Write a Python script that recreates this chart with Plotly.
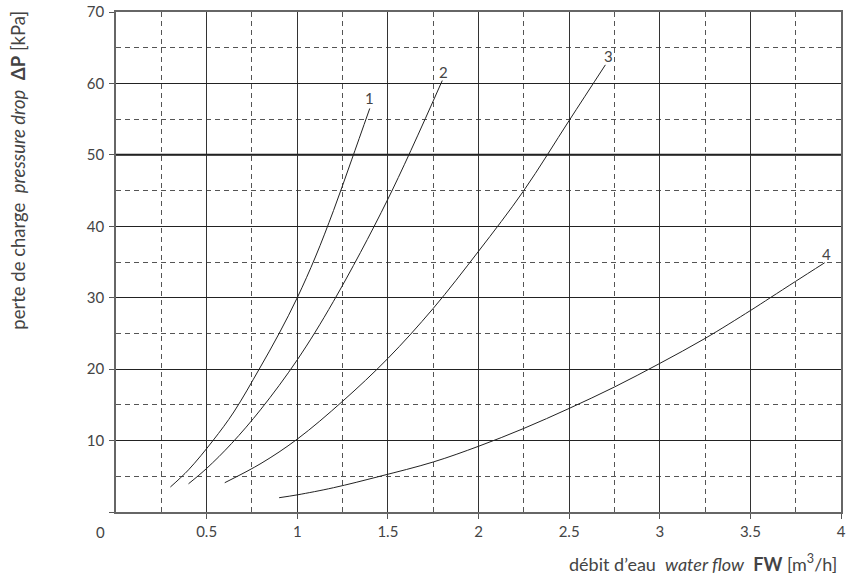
import plotly.graph_objects as go

# ---- data ----
c1_x = [0.30, 0.40, 0.535, 0.65, 0.79, 0.90, 1.00, 1.10, 1.20, 1.30, 1.40]
c1_y = [3.5, 5.9, 10.0, 14.0, 20.0, 25.0, 30.0, 35.7, 42.2, 49.3, 56.5]

c2_x = [0.40, 0.50, 0.638, 0.80, 1.00, 1.20, 1.50, 1.80]
c2_y = [3.95, 6.1, 9.6, 14.4, 21.3, 29.5, 43.8, 60.4]

c3_x = [0.60, 0.80, 1.00, 1.25, 1.50, 1.75, 2.00, 2.25, 2.50, 2.70]
c3_y = [4.1, 6.8, 10.2, 15.5, 21.5, 28.5, 36.5, 45.0, 54.8, 62.6]

c4_x = [0.90, 1.00, 1.20, 1.456, 1.75, 2.00, 2.25, 2.50, 2.75, 3.00, 3.25, 3.50, 3.61, 3.75, 3.91]
c4_y = [2.0, 2.4, 3.4, 5.0, 7.0, 9.2, 11.7, 14.5, 17.5, 20.8, 24.3, 28.2, 30.0, 32.3, 34.9]

curve_names = ["1", "2", "3", "4"]
label_x = [1.397, 1.805, 2.715, 3.92]
label_y = [57.9, 61.6, 63.8, 36.1]

x_tickvals = [0.5, 1, 1.5, 2, 2.5, 3, 3.5, 4]
x_ticktext = ["0.5", "1", "1.5", "2", "2.5", "3", "3.5", "4"]
y_tickvals = [0, 10, 20, 30, 40, 50, 60, 70]
y_ticktext = ["", "10", "20", "30", "40", "50", "60", "70"]

FONT = "Lato"
TXT = "#444444"

fig = go.Figure()
for xs, ys, nm in zip([c1_x, c2_x, c3_x, c4_x], [c1_y, c2_y, c3_y, c4_y], curve_names):
    fig.add_trace(go.Scatter(x=xs, y=ys, mode="lines", name=nm,
                             line=dict(color="#222222", width=1, shape="spline", smoothing=1.0),
                             showlegend=False, hoverinfo="skip"))

for lx, ly, nm in zip(label_x, label_y, curve_names):
    fig.add_annotation(x=lx, y=ly, text=nm, showarrow=False, xanchor="center", yanchor="middle",
                       font=dict(family=FONT, size=15, color=TXT))

# thicker line at 50
fig.add_shape(type="line", xref="paper", x0=0, x1=1, yref="y", y0=50, y1=50,
              line=dict(color="#111111", width=2), layer="below")

# origin label
fig.add_annotation(xref="paper", yref="paper", x=-0.022, y=-0.04, text="0", showarrow=False,
                   xanchor="center", yanchor="middle", font=dict(family=FONT, size=15, color=TXT))

# axis titles
fig.add_annotation(xref="paper", yref="paper", x=-0.135, y=0.683, textangle=-90,
                   text="perte de charge&nbsp;&nbsp;<i>pressure drop</i>&nbsp;&nbsp;<b>ΔP</b> [kPa]",
                   showarrow=False, xanchor="center", yanchor="middle",
                   font=dict(family=FONT, size=18.5, color=TXT))
fig.add_annotation(xref="paper", yref="paper", x=0.997, y=-0.102,
                   text="débit d’eau&nbsp;&nbsp;<i>water flow</i>&nbsp;&nbsp;<b>FW</b> [m<sup>3</sup>/h]",
                   showarrow=False, xanchor="right", yanchor="middle",
                   font=dict(family=FONT, size=18, color=TXT))

fig.update_xaxes(range=[0, 4], tickvals=x_tickvals, ticktext=x_ticktext, automargin=False,
                 showgrid=True, gridcolor="#333333", gridwidth=1,
                 showline=True, linecolor="#666666", linewidth=1.5, mirror=True,
                 ticks="outside", ticklen=5, tickcolor="#555555", tickwidth=1,
                 ticklabelstandoff=0,
                 zeroline=False,
                 minor=dict(tickvals=[0.25, 0.75, 1.25, 1.75, 2.25, 2.75, 3.25, 3.75],
                            showgrid=True, gridcolor="#555555", gridwidth=1, griddash="5px,4px"),
                 tickfont=dict(family=FONT, size=15, color=TXT))
fig.update_yaxes(range=[0, 70], tickvals=y_tickvals, ticktext=y_ticktext, automargin=False,
                 showgrid=True, gridcolor="#222222", gridwidth=1.2,
                 showline=True, linecolor="#666666", linewidth=1.5, mirror=True,
                 ticks="outside", ticklen=5, tickcolor="#555555", tickwidth=1,
                 ticklabelstandoff=2,
                 zeroline=False,
                 minor=dict(tickvals=[5, 15, 25, 35, 45, 55, 65],
                            showgrid=True, gridcolor="#555555", gridwidth=1, griddash="5px,4px"),
                 tickfont=dict(family=FONT, size=15, color=TXT))

fig.update_layout(width=846, height=579, margin=dict(l=116, r=5, t=12, b=67),
                  plot_bgcolor="white", paper_bgcolor="white",
                  font=dict(family=FONT, color=TXT))

fig.write_html("out.html")
